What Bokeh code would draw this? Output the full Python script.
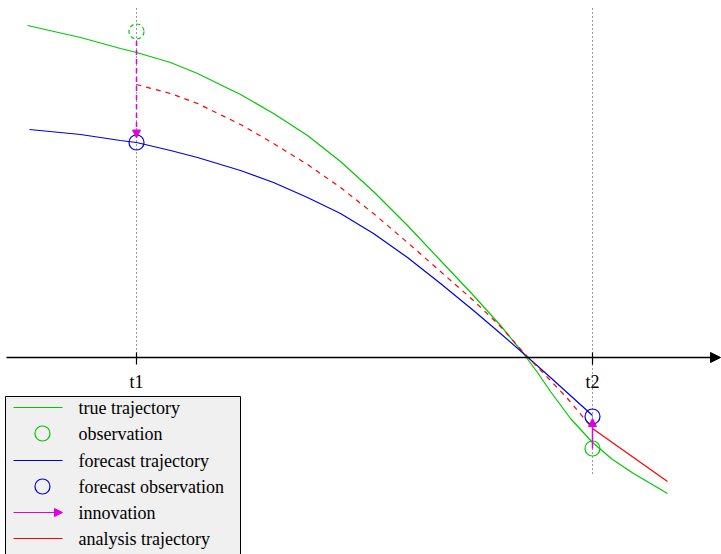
from bokeh.plotting import figure
from bokeh.models import Range1d, Arrow, NormalHead
from bokeh.core.properties import value
from bokeh.embed import file_html
from bokeh.resources import INLINE

# ---- data (time, state) ----
true_t = [27, 80, 120, 136, 170, 197, 240, 273, 307, 340, 373, 407, 440, 473, 500, 523, 537, 550, 570, 592, 612, 633, 667]
true_x = [332, 320, 309, 305, 295, 284, 263, 244, 222, 196, 166, 132, 97, 62, 32, 4, -15, -34, -61, -85, -102, -116, -136]

fc_t = [29, 80, 120, 136, 170, 197, 240, 273, 307, 340, 373, 407, 440, 473, 500, 523, 550, 592]
fc_x = [228, 223, 217, 215, 207, 200, 187, 175, 160, 144, 124, 100, 74, 47, 24, 4, -20, -58]

an_dash_t = [136, 170, 197, 240, 273, 307, 340, 373, 407, 440, 473, 500, 523, 550, 567, 592]
an_dash_x = [273, 264, 254, 233, 214, 193, 170, 144, 115, 86, 57, 31, 5, -23, -41, -71]

an_t = [592, 633, 667]
an_x = [-71, -100, -124]

obs_t = [136, 592]
obs_x = [326, -91]
fc_obs_t = [136, 592]
fc_obs_x = [215, -59]

tick_t = [136, 592]
tick_labels = ["t1", "t2"]

legend_labels = ["true trajectory", "observation", "forecast trajectory",
                 "forecast observation", "innovation", "analysis trajectory"]

GREEN = "#00c800"
BLUE = "#0000dd"
RED = "#ff0000"
MAG = "#e000e0"
FONT = "Liberation Serif"

p = figure(width=721, height=554, output_backend="svg", toolbar_location=None,
           x_range=Range1d(0, 721), y_range=Range1d(-197, 357),
           min_border=0, outline_line_color=None)
p.axis.visible = False
p.grid.visible = False
p.background_fill_color = "white"
p.border_fill_color = "white"

# vertical dotted lines
p.segment(x0=[tick_t[0]], y0=[349], x1=[tick_t[0]], y1=[0], line_color="#333333",
          line_dash="1 3", line_width=1)
p.segment(x0=[tick_t[1]], y0=[349], x1=[tick_t[1]], y1=[-119], line_color="#333333",
          line_dash="1 3", line_width=1)

# time axis with arrow
p.add_layout(Arrow(end=NormalHead(size=10, fill_color="black", line_color="black"),
                   x_start=6, y_start=0, x_end=720, y_end=0,
                   line_color="black", line_width=1.5))
p.segment(x0=tick_t, y0=[5] * 2, x1=tick_t, y1=[-7] * 2, line_color="black", line_width=1.2)
p.text(x=tick_t, y=[-24] * 2, text=tick_labels, text_font=value(FONT), text_font_size="18px",
       text_align="center", text_baseline="middle", text_color="black")

# trajectories
p.line(true_t, true_x, line_color=GREEN, line_width=1.2)
p.line(fc_t, fc_x, line_color=BLUE, line_width=1.2)
p.line(an_dash_t, an_dash_x, line_color=RED, line_width=1.2, line_dash="5 5")
p.line(an_t, an_x, line_color=RED, line_width=1.2)

# observations
p.scatter([obs_t[0]], [obs_x[0]], marker="circle", size=15, fill_color=None,
          line_color=GREEN, line_width=1.2, line_dash="4 3")
p.scatter([obs_t[1]], [obs_x[1]], marker="circle", size=15, fill_color=None,
          line_color=GREEN, line_width=1.2)
p.scatter(fc_obs_t, fc_obs_x, marker="circle", size=15, fill_color=None,
          line_color=BLUE, line_width=1.2)

# innovation arrows
r = 7.5
p.add_layout(Arrow(end=NormalHead(size=8, fill_color=MAG, line_color=MAG),
                   x_start=obs_t[0], y_start=obs_x[0] - r - 2,
                   x_end=fc_obs_t[0], y_end=fc_obs_x[0] + r - 3,
                   line_color=MAG, line_width=1.5, line_dash="5 4"))
p.add_layout(Arrow(end=NormalHead(size=8, fill_color=MAG, line_color=MAG),
                   x_start=obs_t[1], y_start=obs_x[1],
                   x_end=fc_obs_t[1], y_end=fc_obs_x[1] - 2,
                   line_color=MAG, line_width=1.5))

# legend box
p.quad(left=[5], right=[240], top=[-39], bottom=[-205], fill_color="#f0f0f0",
       line_color="black", line_width=1)
ly = [-50, -76, -103, -129, -155, -181]
p.segment(x0=[13], y0=[ly[0]], x1=[62], y1=[ly[0]], line_color=GREEN, line_width=1.2)
p.scatter([42], [ly[1]], marker="circle", size=15, fill_color=None, line_color=GREEN, line_width=1.2)
p.segment(x0=[13], y0=[ly[2]], x1=[62], y1=[ly[2]], line_color=BLUE, line_width=1.2)
p.scatter([42], [ly[3]], marker="circle", size=15, fill_color=None, line_color=BLUE, line_width=1.2)
p.add_layout(Arrow(end=NormalHead(size=8, fill_color=MAG, line_color=MAG),
                   x_start=13, y_start=ly[4], x_end=62, y_end=ly[4],
                   line_color=MAG, line_width=1.2))
p.segment(x0=[13], y0=[ly[5]], x1=[62], y1=[ly[5]], line_color=RED, line_width=1.2)
p.text(x=[78] * 6, y=ly, text=legend_labels, text_font=value(FONT), text_font_size="18px",
       text_align="left", text_baseline="middle", text_color="black")

open("out.html", "w").write(file_html(p, INLINE))
